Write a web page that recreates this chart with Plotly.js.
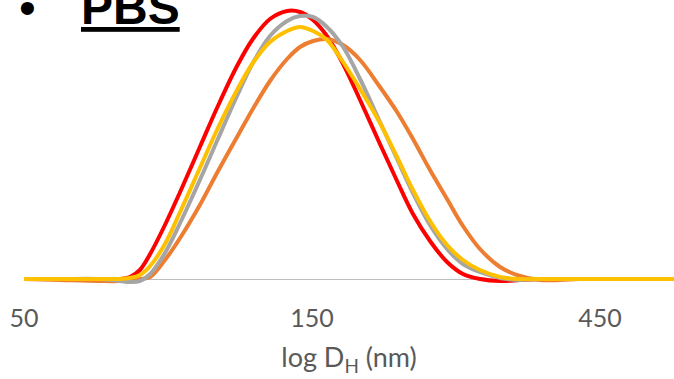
<!DOCTYPE html>
<html>
<head>
<meta charset="utf-8">
<script src="https://cdn.plot.ly/plotly-3.0.1.min.js"></script>
<style>
  html, body { margin: 0; padding: 0; background: #fff; }
  #chart { width: 674px; height: 379px; }
</style>
</head>
<body>
<div id="chart"></div>
<script>
// Hydrodynamic diameter (nm), log-spaced bins
const diameters = [50, 57.4, 66.8, 72.1, 74.9, 77.8, 80.9, 85.6, 90.7, 97.8, 104.4, 112.7, 119.7, 127.8, 136.4, 143.3, 150.6, 158.8, 168.9, 180.2, 194.4, 207.5, 220.5, 235.3, 251.1, 266.8, 284.7, 307.4, 331.6, 357.9, 417, 486, 597];

const redSeries    = [0, 0, 0, 0, 0.2, 0.9, 2.5, 5.4, 8.7, 13.2, 17.1, 21.3, 24.0, 26.0, 26.8, 26.7, 25.9, 24.3, 21.5, 17.9, 13.5, 9.8, 6.5, 3.8, 1.7, 0.5, 0, -0.2, -0.1, 0, 0, 0, 0];
const orangeSeries = [0, -0.1, -0.2, -0.2, -0.1, 0, 0.2, 1.9, 4.1, 7.4, 10.6, 14.2, 17.0, 19.8, 22.0, 23.2, 23.8, 24.0, 23.4, 21.9, 19.2, 16.7, 14.0, 10.9, 8.0, 5.3, 3.0, 1.2, 0.3, -0.1, 0, 0, 0];
const graySeries   = [0, 0, 0, -0.2, -0.3, -0.2, 0.5, 2.6, 5.6, 9.9, 13.8, 18.3, 21.6, 24.3, 25.8, 26.3, 26.2, 25.2, 23.2, 20.0, 15.7, 12.0, 8.6, 5.4, 3.0, 1.5, 0.7, 0.1, -0.1, 0, 0, 0, 0];
const yellowSeries = [0, 0, 0, 0, 0.1, 0.4, 1.3, 3.5, 6.7, 11.1, 14.9, 18.9, 21.6, 23.7, 24.8, 25.2, 24.8, 23.9, 21.7, 19.0, 15.6, 12.2, 8.9, 5.8, 3.4, 1.9, 0.9, 0.2, 0, 0, 0, 0, 0];

const tickValues = [50, 150, 450];
const tickLabels = ['50', '150', '450'];

const seriesList = [
  { y: redSeries, color: '#FF0000' },
  { y: orangeSeries, color: '#ED7D31' },
  { y: graySeries, color: '#A5A5A5' },
  { y: yellowSeries, color: '#FFC000' }
];

const traces = seriesList.map(s => ({
  type: 'scatter',
  mode: 'lines',
  x: diameters,
  y: s.y,
  line: { color: s.color, width: 4, shape: 'spline', smoothing: 1 },
  hoverinfo: 'skip'
}));

const layout = {
  width: 674,
  height: 379,
  margin: { l: 24, r: 0, t: 0, b: 79, pad: 0 },
  paper_bgcolor: '#ffffff',
  plot_bgcolor: '#ffffff',
  showlegend: false,
  xaxis: {
    type: 'log',
    range: [Math.log10(50), Math.log10(50) + 650 / 603.6],
    tickvals: tickValues,
    ticktext: tickLabels,
    ticks: '',
    showgrid: false,
    zeroline: false,
    showline: false,
    tickfont: { family: 'Lato, "Open Sans", sans-serif', size: 25, color: '#595959' },
    ticklabelstandoff: 1,
    title: {
      text: 'log D<sub>H</sub> (nm)',
      font: { family: 'Lato, "Open Sans", sans-serif', size: 27, color: '#595959' },
      standoff: 17
    },
    automargin: false
  },
  yaxis: {
    range: [-2.1, 27.9],
    showgrid: false,
    showticklabels: false,
    ticks: '',
    showline: false,
    zeroline: true,
    zerolinecolor: '#BFBFBF',
    zerolinewidth: 1,
    automargin: false
  },
  annotations: [
    {
      xref: 'paper', yref: 'paper',
      x: (27 - 24) / 650, y: (300 - 36) / 300,
      xanchor: 'center', yanchor: 'bottom',
      text: '•', showarrow: false,
      font: { family: '"Liberation Sans", Arial, sans-serif', size: 48, color: '#000000' }
    },
    {
      xref: 'paper', yref: 'paper',
      x: (79 - 24) / 650, y: (300 - 36) / 300,
      xanchor: 'left', yanchor: 'bottom',
      text: '<b><u>PBS</u></b>', showarrow: false,
      font: { family: '"Liberation Sans", Arial, sans-serif', size: 48, color: '#000000' }
    }
  ]
};

Plotly.newPlot('chart', traces, layout, { displayModeBar: false, staticPlot: true });
</script>
</body>
</html>
